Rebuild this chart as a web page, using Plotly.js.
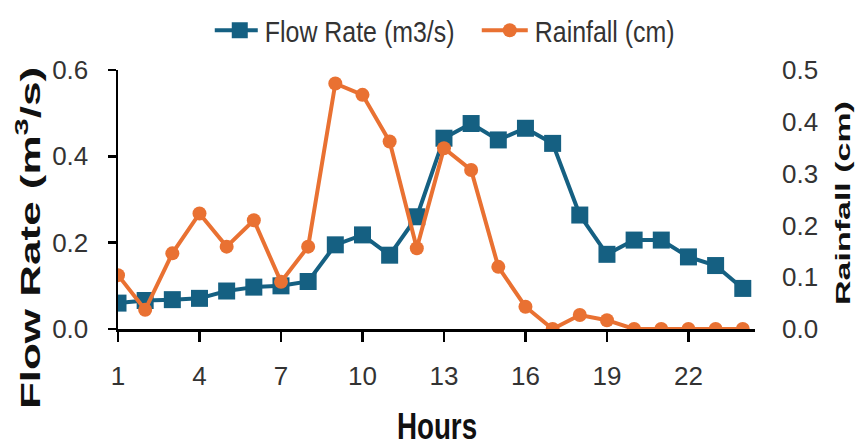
<!DOCTYPE html>
<html>
<head>
<meta charset="utf-8">
<script src="https://cdn.plot.ly/plotly-3.0.1.min.js"></script>
<style>html,body{margin:0;padding:0;background:#fff;}#chart{width:866px;height:446px;}</style>
</head>
<body>
<div id="chart"></div>
<script>
const hours = [1,2,3,4,5,6,7,8,9,10,11,12,13,14,15,16,17,18,19,20,21,22,23,24];
const flowRate = [0.060,0.066,0.068,0.071,0.088,0.097,0.100,0.110,0.195,0.218,0.171,0.260,0.442,0.476,0.438,0.465,0.430,0.264,0.173,0.206,0.206,0.167,0.147,0.094];
const rainfall = [0.104,0.037,0.146,0.223,0.159,0.210,0.091,0.159,0.474,0.452,0.362,0.156,0.349,0.307,0.120,0.043,0.0,0.027,0.017,0.0,0.0,0.0,0.0,0.0];
const xTicks = [1,4,7,10,13,16,19,22];

const sans = 'Liberation Sans, Arial, sans-serif';
const tickFont = {family: sans, size: 26, color: '#333'};

const traces = [
  {
    x: hours, y: flowRate, name: 'Flow Rate (m3/s)', type: 'scatter', mode: 'lines+markers',
    line: {color: '#156082', width: 4},
    marker: {symbol: 'square', size: 17, color: '#156082'},
    yaxis: 'y'
  },
  {
    x: hours, y: rainfall, name: 'Rainfall (cm)', type: 'scatter', mode: 'lines+markers',
    line: {color: '#E97132', width: 4},
    marker: {symbol: 'circle', size: 14, color: '#E97132'},
    yaxis: 'y2'
  }
];

const layout = {
  width: 866, height: 446,
  margin: {l: 118, r: 111, t: 70, b: 117},
  paper_bgcolor: '#fff', plot_bgcolor: '#fff',
  showlegend: true,
  legend: {
    orientation: 'h', x: 0.248, xref: 'container', xanchor: 'left',
    y: 0.932, yref: 'container', yanchor: 'middle',
    font: {family: sans, size: 29, color: '#333'},
    itemwidth: 40, entrywidth: 215, entrywidthmode: 'pixels'
  },
  xaxis: {
    range: [1, 24.45], tickmode: 'array', tickvals: xTicks, ticktext: xTicks.map(String),
    showline: true, linecolor: '#000', linewidth: 2.5,
    ticks: 'outside', ticklen: 10, tickwidth: 2.5, tickcolor: '#000',
    ticklabelstandoff: 12,
    showgrid: false, zeroline: false,
    tickfont: tickFont,
    title: {text: 'Hours', font: {family: sans, size: 37, color: '#111', weight: 'bold'}, standoff: 20}
  },
  xaxis2: {
    matches: 'x', overlaying: 'x', anchor: 'y', side: 'bottom',
    range: [1, 24.45], tickmode: 'array', tickvals: xTicks,
    showticklabels: false, showline: false, showgrid: false, zeroline: false,
    ticks: 'inside', ticklen: 9, tickwidth: 2.5, tickcolor: '#000'
  },
  yaxis: {
    range: [0, 0.6], dtick: 0.2, tick0: 0, tickformat: '.1f',
    showline: true, linecolor: '#000', linewidth: 2.5,
    ticks: 'outside', ticklen: 8, tickwidth: 2.5, tickcolor: '#000',
    ticklabelstandoff: 14,
    showgrid: false, zeroline: false,
    tickfont: tickFont,
    title: {text: 'Flow Rate (m<sup>3</sup>/s)', font: {family: sans, size: 44, color: '#111', weight: 'bold'}, standoff: 6}
  },
  yaxis2: {
    range: [0, 0.5], dtick: 0.1, tick0: 0, tickformat: '.1f',
    overlaying: 'y', side: 'right',
    showline: false, ticks: '', showgrid: false, zeroline: false,
    ticklabelstandoff: 26,
    tickfont: tickFont,
    title: {text: 'Rainfall (cm)', font: {family: sans, size: 34, color: '#111', weight: 'bold'}, standoff: 6}
  }
};

// Horizontal compression of text to mimic the narrow look of the reference.
function fitText(gd, selector, sx, anchor, tx, ty) {
  const svg = gd.querySelector('svg.main-svg');
  gd.querySelectorAll(selector).forEach(el => {
    const r = el.getBoundingClientRect();
    if (!r.width) return;
    const ax = anchor === 'left' ? r.left : anchor === 'right' ? r.right : (r.left + r.right) / 2;
    const ay = (r.top + r.bottom) / 2;
    const inv = el.parentNode.getScreenCTM().inverse();
    const pt = svg.createSVGPoint();
    pt.x = ax; pt.y = ay;
    const p = pt.matrixTransform(inv);
    pt.x = (tx == null ? ax : tx); pt.y = (ty == null ? ay : ty);
    const q = pt.matrixTransform(inv);
    const old = el.getAttribute('transform') || '';
    el.setAttribute('transform', `translate(${q.x},${q.y}) scale(${sx},1) translate(${-p.x},${-p.y}) ${old}`);
  });
}

Plotly.newPlot('chart', traces, layout, {displayModeBar: false, staticPlot: true}).then(gd => {
  fitText(gd, '.legendtext', 0.86, 'left');
  fitText(gd, '.xtitle', 0.75, 'center', 437, 427);
  fitText(gd, '.ytitle', 0.62, 'center', 28, 238);
  fitText(gd, '.y2title', 0.62, 'center', 843, 203);
  gd.querySelectorAll('.legendlines path').forEach(p => p.setAttribute('d', 'M-3,0h46'));
});
</script>
</body>
</html>
